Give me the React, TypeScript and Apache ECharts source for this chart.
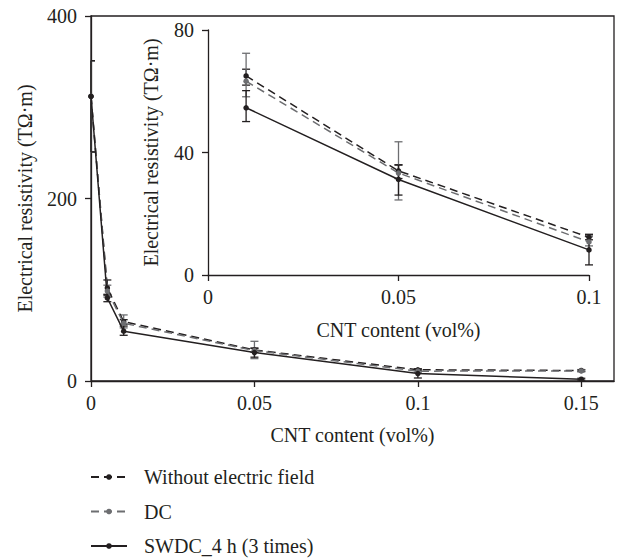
import React, { useEffect, useRef } from "react";
import * as echarts from "echarts";

// ---- data ----
const mainX = [0, 0.005, 0.01, 0.05, 0.1, 0.15];
const withoutField = [312, 102, 65, 34, 12.3, 11.5];
const dcField = [312, 98.6, 63.3, 33.3, 10.8, 11];
const swdcField = [312, 91, 54.6, 31.2, 8.2, 2];

const withoutLow = [251, 94, 62, 31.5, 11.5, 10.5];
const withoutHigh = [351, 110.7, 67.2, 36, 13.3, 12.5];
const dcLow = [251, 92, 58.2, 24.5, 9.5, 10];
const dcHigh = [351, 105, 72.4, 43.5, 12.5, 12];
const swdcLow = [251, 86.9, 50.1, 26.1, 3.3, 1];
const swdcHigh = [351, 95, 60.2, 35.9, 13.1, 3];

const insetIdx = [2, 3, 4];
const mainXTicks = [0, 0.05, 0.1, 0.15];
const insetXTicks = [0, 0.05, 0.1];
const seriesNames = ["Without electric field", "DC", "SWDC_4 h (3 times)"];
const axisTitleX = "CNT content (vol%)";
const axisTitleY = "Electrical resistivity (TΩ·m)";

const INK = "#231f20";
const GRAY = "#6d6e71";
const FONT = "Liberation Serif";

function App() {
  const ref = useRef<HTMLDivElement>(null);
  useEffect(() => {
    if (!ref.current) return;
    const chart = echarts.init(ref.current, undefined, { renderer: "svg" });

    const defs = [
      { name: seriesNames[0], y: withoutField, lo: withoutLow, hi: withoutHigh, color: INK, dashed: true },
      { name: seriesNames[1], y: dcField, lo: dcLow, hi: dcHigh, color: GRAY, dashed: true },
      { name: seriesNames[2], y: swdcField, lo: swdcLow, hi: swdcHigh, color: INK, dashed: false },
    ];

    const errSeries = (d: any, idxs: number[], gi: number) => ({
      type: "custom",
      name: d.name + "_err" + gi,
      xAxisIndex: gi,
      yAxisIndex: gi,
      silent: true,
      clip: false,
      z: 1,
      encode: { x: 0, y: [1, 2] },
      data: idxs.map((i) => [mainX[i], d.lo[i], d.hi[i]]),
      renderItem: (params: any, api: any) => {
        const x = api.value(0);
        const p1 = api.coord([x, api.value(1)]);
        const p2 = api.coord([x, api.value(2)]);
        const w = 4;
        const cs = params.coordSys;
        const leftX = gi === 0 ? Math.max(p1[0] - w, cs.x) : p1[0] - w;
        const style = { stroke: d.color, lineWidth: 1.3, fill: null };
        return {
          type: "group",
          children: [
            { type: "line", shape: { x1: p1[0], y1: p1[1], x2: p2[0], y2: p2[1] }, style },
            { type: "line", shape: { x1: leftX, y1: p1[1], x2: p1[0] + w, y2: p1[1] }, style },
            { type: "line", shape: { x1: leftX, y1: p2[1], x2: p2[0] + w, y2: p2[1] }, style },
          ],
        };
      },
    });

    const lineSeries = (d: any, idxs: number[], gi: number) => ({
      type: "line",
      name: d.name,
      xAxisIndex: gi,
      yAxisIndex: gi,
      z: 3,
      symbol: "circle",
      symbolSize: 5.5,
      showSymbol: true,
      itemStyle: { color: d.color },
      lineStyle: { color: d.color, width: 1.5, type: d.dashed ? [8, 5] : "solid" },
      data: idxs.map((i) => [mainX[i], d.y[i]]),
    });

    const allIdx = mainX.map((_, i) => i);
    const series: any[] = [];
    defs.forEach((d) => {
      series.push(errSeries(d, allIdx, 0));
      series.push(errSeries(d, insetIdx, 1));
    });
    defs.forEach((d) => series.push(lineSeries(d, allIdx, 0)));
    defs.forEach((d) => series.push(lineSeries(d, insetIdx, 1)));

    const axisCommon = {
      axisLine: { show: true, lineStyle: { color: INK, width: 1.3 } },
      axisTick: { show: true, inside: false, length: 6, lineStyle: { color: INK, width: 1.3 } },
      splitLine: { show: false },
      nameTextStyle: { fontFamily: FONT, fontSize: 20, color: INK },
    };

    chart.setOption({
      animation: false,
      backgroundColor: "#ffffff",
      textStyle: { fontFamily: FONT, color: INK },
      grid: [
        { left: 91, top: 16, right: 4, bottom: 178, show: true, borderColor: INK, borderWidth: 1.3, backgroundColor: "transparent" },
        { left: 208, top: 30, right: 29, bottom: 284, show: false },
      ],
      legend: {
        data: seriesNames,
        orient: "vertical",
        left: 90,
        top: 467,
        padding: 0,
        itemWidth: 36,
        itemHeight: 7,
        itemGap: 14.5,
        textStyle: { fontFamily: FONT, fontSize: 20, color: INK, lineHeight: 20, padding: [0, 0, 0, 12] },
      },
      xAxis: [
        {
          ...axisCommon,
          type: "value",
          gridIndex: 0,
          min: 0,
          max: 0.16,
          interval: 0.05,
          name: axisTitleX,
          nameLocation: "middle",
          nameGap: 44,
          axisTick: { ...axisCommon.axisTick, customValues: mainXTicks },
          axisLabel: {
            customValues: mainXTicks,
            fontFamily: FONT,
            fontSize: 20,
            color: INK,
            margin: 12,
            formatter: (v: number) => String(Math.round(v * 1000) / 1000),
          },
        },
        {
          ...axisCommon,
          type: "value",
          gridIndex: 1,
          min: 0,
          max: 0.1,
          interval: 0.05,
          name: axisTitleX,
          nameLocation: "middle",
          nameGap: 45,
          axisTick: { ...axisCommon.axisTick, customValues: insetXTicks },
          axisLabel: {
            customValues: insetXTicks,
            fontFamily: FONT,
            fontSize: 20,
            color: INK,
            margin: 12,
            formatter: (v: number) => String(Math.round(v * 1000) / 1000),
          },
        },
      ],
      yAxis: [
        {
          ...axisCommon,
          type: "value",
          gridIndex: 0,
          min: 0,
          max: 400,
          interval: 200,
          name: axisTitleY,
          nameLocation: "middle",
          nameGap: 56,
          axisLabel: { fontFamily: FONT, fontSize: 20, color: INK, margin: 14 },
        },
        {
          ...axisCommon,
          type: "value",
          gridIndex: 1,
          min: 0,
          max: 80,
          interval: 40,
          name: axisTitleY,
          nameLocation: "middle",
          nameGap: 47,
          axisLabel: { fontFamily: FONT, fontSize: 20, color: INK, margin: 14 },
        },
      ],
      series,
    });

    return () => chart.dispose();
  }, []);

  return (
    <div
      ref={ref}
      style={{ position: "fixed", left: 0, top: 0, width: 618, height: 559, background: "#fff" }}
    />
  );
}

export default App;
